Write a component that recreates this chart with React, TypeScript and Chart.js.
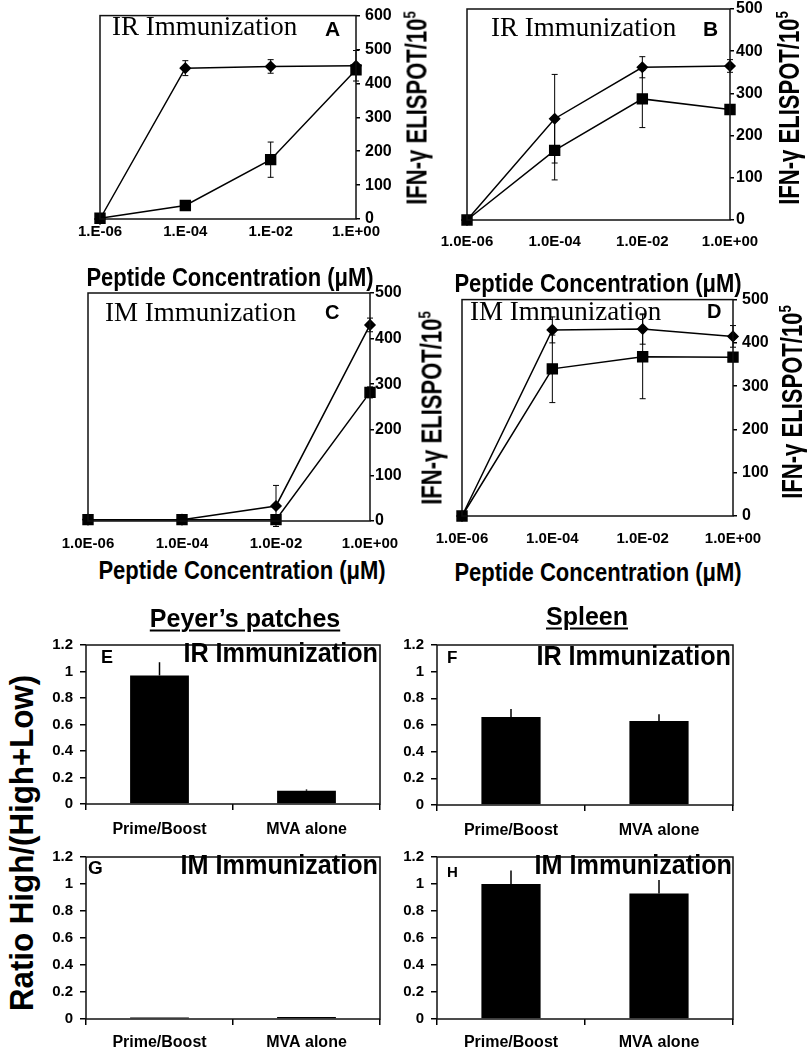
import React, { useEffect, useRef } from 'react';
import { Chart, registerables } from 'chart.js';
Chart.register(...registerables);

const SANS = "'Liberation Sans', Arial, sans-serif";
const SERIF = "'Liberation Serif', 'Times New Roman', serif";
Chart.defaults.font.family = SANS;
Chart.defaults.color = '#000';

// ---- data ----
const concLabelsA = ['1.E-06', '1.E-04', '1.E-02', '1.E+00'];
const concLabels = ['1.0E-06', '1.0E-04', '1.0E-02', '1.0E+00'];

const aDiamond = [0, 445, 450, 452];
const aDiamondErr = [0, 22, 20, 45];
const aSquare = [2, 40, 175, 440];
const aSquareErr = [0, 0, 52, 0];

const bDiamond = [0, 240, 362, 365];
const bDiamondErr = [0, 105, 25, 15];
const bSquare = [0, 165, 287, 262];
const bSquareErr = [0, 70, 68, 8];

const cDiamond = [3, 3, 33, 430];
const cDiamondErr = [0, 0, 45, 15];
const cSquare = [3, 3, 3, 282];
const cSquareErr = [0, 0, 0, 12];

const dDiamond = [0, 430, 432, 415];
const dDiamondErr = [0, 30, 35, 25];
const dSquare = [0, 340, 368, 367];
const dSquareErr = [0, 78, 97, 10];

const barCategories = ['Prime/Boost', 'MVA alone'];
const eValues = [0.97, 0.1];
const eErr = [0.1, 0.01];
const fValues = [0.66, 0.63];
const fErr = [0.06, 0.05];
const gValues = [0.012, 0.014];
const gErr = [0, 0];
const hValues = [1.0, 0.93];
const hErr = [0.1, 0.1];

// ---- plugins ----
function drawErrors(chart: any, both: boolean) {
  const ctx = chart.ctx;
  const ys = chart.scales.y;
  ctx.save();
  ctx.strokeStyle = '#000';
  ctx.lineWidth = both ? 1 : 1.5;
  chart.data.datasets.forEach((ds: any, di: number) => {
    const errs = ds.errors;
    if (!errs) return;
    const meta = chart.getDatasetMeta(di);
    meta.data.forEach((el: any, i: number) => {
      const e = errs[i];
      if (!e) return;
      const v = ds.data[i];
      const x = el.x;
      const top = ys.getPixelForValue(v + e);
      const bot = both ? ys.getPixelForValue(v - e) : el.y;
      ctx.beginPath();
      ctx.moveTo(x, top);
      ctx.lineTo(x, bot);
      if (both) {
        ctx.moveTo(x - 3, top);
        ctx.lineTo(x + 3, top);
        ctx.moveTo(x - 3, bot);
        ctx.lineTo(x + 3, bot);
      }
      ctx.stroke();
    });
  });
  ctx.restore();
}

const errorBarPlugin = {
  id: 'errorBars',
  beforeDatasetsDraw(chart: any) {
    if (chart.config.type === 'line') drawErrors(chart, true);
  },
  afterDatasetsDraw(chart: any) {
    if (chart.config.type === 'bar') drawErrors(chart, false);
  },
};

const framePlugin = {
  id: 'frame',
  afterDraw(chart: any) {
    const { ctx, chartArea } = chart;
    ctx.save();
    ctx.strokeStyle = '#111';
    ctx.lineWidth = 1.5;
    ctx.strokeRect(chartArea.left, chartArea.top, chartArea.right - chartArea.left, chartArea.bottom - chartArea.top);
    ctx.restore();
  },
};

type Plot = { l: number; t: number; r: number; b: number };

function LinePanel(props: {
  plot: Plot; labels: string[]; diamond: number[]; diamondErr: number[];
  square: number[]; squareErr: number[]; yMax: number; xPad: number; yPad: number;
}) {
  const { plot, labels, diamond, diamondErr, square, squareErr, yMax, xPad, yPad } = props;
  const ref = useRef<HTMLCanvasElement>(null);
  const PL = 40, PT = 12, AW = 48, XH = 32;
  useEffect(() => {
    const chart = new Chart(ref.current as HTMLCanvasElement, {
      type: 'line',
      data: {
        labels,
        datasets: [
          {
            data: diamond, errors: diamondErr, pointStyle: 'rectRot', pointRadius: 5,
            borderColor: '#000', backgroundColor: '#000', pointBackgroundColor: '#000',
            pointBorderColor: '#000', borderWidth: 1.5, tension: 0, fill: false, clip: false,
          } as any,
          {
            data: square, errors: squareErr, pointStyle: 'rect', pointRadius: 7,
            borderColor: '#000', backgroundColor: '#000', pointBackgroundColor: '#000',
            pointBorderColor: '#000', borderWidth: 1.5, tension: 0, fill: false, clip: false,
          } as any,
        ],
      },
      options: {
        animation: false, responsive: false, devicePixelRatio: 1,
        layout: { padding: { left: PL, top: PT, right: 0, bottom: 0 } },
        plugins: { legend: { display: false }, tooltip: { enabled: false } },
        scales: {
          x: {
            type: 'category', offset: false,
            grid: { display: false }, border: { display: false },
            ticks: { padding: xPad, font: { size: 15, weight: 'bold' }, color: '#000', maxRotation: 0, autoSkip: false },
            afterFit(s: any) { s.height = XH; },
          },
          y: {
            position: 'right', min: 0, max: yMax,
            ticks: { stepSize: 100, padding: yPad, font: { size: 16, weight: 'bold' }, color: '#000' },
            grid: { drawOnChartArea: false, tickLength: 4, color: '#000', lineWidth: 1.5 },
            border: { display: false },
            afterFit(s: any) { s.width = AW; },
          },
        },
      } as any,
      plugins: [errorBarPlugin, framePlugin],
    });
    return () => chart.destroy();
  }, []);
  const w = plot.r - plot.l + PL + AW;
  const h = plot.b - plot.t + PT + XH;
  return (
    <canvas ref={ref} width={w} height={h}
      style={{ position: 'absolute', left: plot.l - PL, top: plot.t - PT, width: w, height: h }} />
  );
}

function BarPanel(props: { plot: Plot; values: number[]; errors: number[]; xPad: number }) {
  const { plot, values, errors, xPad } = props;
  const ref = useRef<HTMLCanvasElement>(null);
  const YW = 46, PT = 12, PR = 15, XH = 38;
  useEffect(() => {
    const chart = new Chart(ref.current as HTMLCanvasElement, {
      type: 'bar',
      data: {
        labels: barCategories,
        datasets: [
          {
            data: values, errors, backgroundColor: '#000', borderWidth: 0,
            barPercentage: 0.4, categoryPercentage: 1,
          } as any,
        ],
      },
      options: {
        animation: false, responsive: false, devicePixelRatio: 1,
        layout: { padding: { left: 0, top: PT, right: PR, bottom: 0 } },
        plugins: { legend: { display: false }, tooltip: { enabled: false } },
        scales: {
          x: {
            grid: { display: true, drawOnChartArea: false, tickLength: 6, color: '#000', lineWidth: 1.5, offset: true },
            border: { display: false },
            ticks: { padding: xPad, font: { size: 16, weight: 'bold' }, color: '#000', maxRotation: 0 },
            afterFit(s: any) { s.height = XH; },
          },
          y: {
            min: 0, max: 1.2,
            ticks: {
              stepSize: 0.2, padding: 7, font: { size: 15, weight: 'bold' }, color: '#000',
              callback: (v: any) => String(Math.round(Number(v) * 10) / 10),
            },
            grid: { drawOnChartArea: false, tickLength: 6, color: '#000', lineWidth: 1.5 },
            border: { display: false },
            afterFit(s: any) { s.width = YW; },
          },
        },
      } as any,
      plugins: [errorBarPlugin, framePlugin],
    });
    return () => chart.destroy();
  }, []);
  const w = plot.r - plot.l + YW + PR;
  const h = plot.b - plot.t + PT + XH;
  return (
    <canvas ref={ref} width={w} height={h}
      style={{ position: 'absolute', left: plot.l - YW, top: plot.t - PT, width: w, height: h }} />
  );
}

function Txt(props: {
  x: number; y: number; size: number; children: any; family?: string; weight?: string;
  anchor?: 'start' | 'middle' | 'end'; rotate?: boolean; sx?: number; underline?: boolean;
}) {
  const { x, y, size, children, family = SANS, weight = 'bold', anchor = 'middle', rotate = false, sx = 1, underline = false } = props;
  let transform = '';
  let origin = 'center center';
  if (rotate) {
    transform = `translate(-50%,-50%) rotate(-90deg) scaleX(${sx})`;
  } else if (anchor === 'start') {
    transform = `translate(0,-50%) scaleX(${sx})`;
    origin = 'left center';
  } else if (anchor === 'end') {
    transform = `translate(-100%,-50%) scaleX(${sx})`;
    origin = 'right center';
  } else {
    transform = `translate(-50%,-50%) scaleX(${sx})`;
  }
  return (
    <div style={{
      position: 'absolute', left: x, top: y, fontSize: size, fontFamily: family, fontWeight: weight as any,
      lineHeight: 1, whiteSpace: 'nowrap', transform, transformOrigin: origin, color: '#000',
      textDecoration: underline ? 'underline' : 'none', textDecorationThickness: underline ? 2 : undefined,
      textUnderlineOffset: underline ? 3 : undefined,
    }}>{children}</div>
  );
}

const ifnTitle = (<span>IFN-γ ELISPOT/10<sup style={{ fontSize: '0.6em', verticalAlign: 'super', lineHeight: 0 }}>5</sup></span>);

export default function App() {
  return (
    <div style={{ position: 'absolute', left: 0, top: 0, width: 807, height: 1050, background: '#fff', overflow: 'hidden' }}>
      <LinePanel plot={{ l: 100, t: 13, r: 356, b: 219 }} labels={concLabelsA} diamond={aDiamond} diamondErr={aDiamondErr}
        square={aSquare} squareErr={aSquareErr} yMax={600} xPad={-4} yPad={5} />
      <LinePanel plot={{ l: 467, t: 9, r: 730, b: 220 }} labels={concLabels} diamond={bDiamond} diamondErr={bDiamondErr}
        square={bSquare} squareErr={bSquareErr} yMax={500} xPad={5} yPad={2} />
      <LinePanel plot={{ l: 88, t: 293, r: 370, b: 521 }} labels={concLabels} diamond={cDiamond} diamondErr={cDiamondErr}
        square={cSquare} squareErr={cSquareErr} yMax={500} xPad={6} yPad={1} />
      <LinePanel plot={{ l: 462, t: 297, r: 733, b: 516 }} labels={concLabels} diamond={dDiamond} diamondErr={dDiamondErr}
        square={dSquare} squareErr={dSquareErr} yMax={500} xPad={6} yPad={5} />

      <BarPanel plot={{ l: 86, t: 641, r: 380, b: 804 }} values={eValues} errors={eErr} xPad={10} />
      <BarPanel plot={{ l: 437, t: 641, r: 733, b: 805 }} values={fValues} errors={fErr} xPad={10} />
      <BarPanel plot={{ l: 86, t: 853, r: 380, b: 1019 }} values={gValues} errors={gErr} xPad={8} />
      <BarPanel plot={{ l: 437, t: 853, r: 733, b: 1019 }} values={hValues} errors={hErr} xPad={8} />

      {/* line panel titles */}
      <Txt x={112} y={26} size={27} family={SERIF} weight="normal" anchor="start">IR Immunization</Txt>
      <Txt x={325} y={28} size={21} anchor="start">A</Txt>
      <Txt x={491} y={27} size={27} family={SERIF} weight="normal" anchor="start">IR Immunization</Txt>
      <Txt x={703} y={28} size={21} anchor="start">B</Txt>
      <Txt x={105} y={312} size={27} family={SERIF} weight="normal" anchor="start">IM Immunization</Txt>
      <Txt x={325} y={312} size={20} anchor="start">C</Txt>
      <Txt x={470} y={311} size={27} family={SERIF} weight="normal" anchor="start">IM Immunization</Txt>
      <Txt x={707} y={311} size={20} anchor="start">D</Txt>

      <Txt x={230} y={277} size={25} sx={0.88}>Peptide Concentration (μM)</Txt>
      <Txt x={598} y={283} size={25} sx={0.88}>Peptide Concentration (μM)</Txt>
      <Txt x={242} y={570} size={25} sx={0.88}>Peptide Concentration (μM)</Txt>
      <Txt x={598} y={572} size={25} sx={0.88}>Peptide Concentration (μM)</Txt>

      <Txt x={417} y={108} size={29} sx={0.76} rotate>{ifnTitle}</Txt>
      <Txt x={789} y={108} size={29} sx={0.76} rotate>{ifnTitle}</Txt>
      <Txt x={432} y={408} size={29} sx={0.76} rotate>{ifnTitle}</Txt>
      <Txt x={792} y={402} size={29} sx={0.76} rotate>{ifnTitle}</Txt>

      {/* bar panels */}
      <Txt x={245} y={618} size={25} underline>Peyer’s patches</Txt>
      <Txt x={587} y={616} size={25} underline>Spleen</Txt>

      <Txt x={101} y={657} size={18} anchor="start">E</Txt>
      <Txt x={378} y={653} size={28} sx={0.9} anchor="end">IR Immunization</Txt>
      <Txt x={447} y={657} size={17} anchor="start">F</Txt>
      <Txt x={731} y={656} size={28} sx={0.9} anchor="end">IR Immunization</Txt>
      <Txt x={88} y={867} size={19} anchor="start">G</Txt>
      <Txt x={378} y={865} size={28} sx={0.9} anchor="end">IM Immunization</Txt>
      <Txt x={447} y={871} size={15} anchor="start">H</Txt>
      <Txt x={732} y={865} size={28} sx={0.9} anchor="end">IM Immunization</Txt>

      <Txt x={21} y={843} size={34} sx={0.92} rotate>Ratio High/(High+Low)</Txt>
    </div>
  );
}
